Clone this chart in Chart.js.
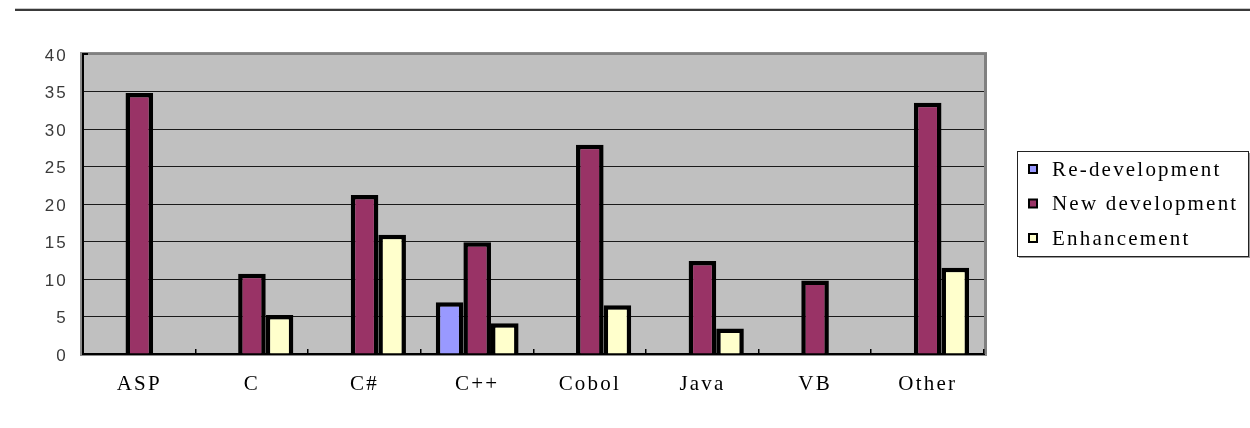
<!DOCTYPE html>
<html>
<head>
<meta charset="utf-8">
<script src="https://cdn.jsdelivr.net/npm/chart.js@4/dist/chart.umd.min.js"></script>
<style>
body{margin:0;background:#fff;}
#myChart{position:absolute;left:0;top:0;}
#raya{position:absolute;left:15px;top:8px;width:1235px;height:2px;background:#3a3a3a;border-top:1px solid #c8c8c8;z-index:2;}
</style>
</head>
<body>
<canvas id="myChart" width="1250" height="428"></canvas>
<div id="raya"></div>
<script>
// datos
var categorias=['ASP','C','C#','C++','Cobol','Java','VB','Other'];
var reDesarrollo=[null,null,null,6.9,null,null,null,null];
var nuevoDesarrollo=[34.8,10.7,21.2,14.9,27.9,12.4,9.8,33.5];
var mejora=[null,5.2,15.9,4.1,6.5,3.4,null,11.5];
var ticksY=[0,5,10,15,20,25,30,35,40];

var myChart=document.getElementById('myChart');
Chart.defaults.font.family='"Liberation Serif", serif';

// fondo gris, marco y leyenda
var marco={
	id:'marco',
	beforeDraw:function(chart){
		var ctx=chart.ctx, a=chart.chartArea;
		ctx.letterSpacing='2.2px';
		ctx.save();
		ctx.fillStyle='#8c8c8c';
		ctx.fillRect(a.left-3,a.top-2,a.right-a.left+6,a.bottom-a.top+4);
		ctx.fillStyle='#c0c0c0';
		ctx.fillRect(a.left,a.top,a.right-a.left,a.bottom-a.top);
		ctx.restore();
	},
	afterDraw:function(chart){
		var ctx=chart.ctx, a=chart.chartArea, x=chart.scales.x;
		ctx.save();
		// borde de arriba y derecha
		ctx.fillStyle='#808080';
		ctx.fillRect(a.left,a.top-1,a.right-a.left,2);
		ctx.fillRect(a.right,a.top-1,3,a.bottom-a.top+1);
		ctx.fillStyle='#000';
		ctx.fillRect(a.left,a.top-1,5,2);
		// marcas entre categorias
		var medio=(x.getPixelForValue(1)-x.getPixelForValue(0))/2;
		for(var i=0;i<categorias.length;i++){
			var px=Math.round(x.getPixelForValue(i)+medio);
			ctx.fillRect(px-1,a.bottom-5,1.5,5);
		}
		// leyenda
		var lx=1017, ly=151, lw=231, lh=105;
		ctx.fillStyle='#9a9a9a';
		ctx.fillRect(lx+2,ly+2,lw,lh);
		ctx.fillStyle='#fff';
		ctx.fillRect(lx,ly,lw,lh);
		ctx.strokeStyle='#222';
		ctx.lineWidth=1;
		ctx.strokeRect(lx+0.5,ly+0.5,lw,lh);
		ctx.font='21px "Liberation Serif"';
		ctx.textBaseline='middle';
		ctx.textAlign='left';
		chart.data.datasets.forEach(function(ds,k){
			var cy=ly+18+k*34.5;
			ctx.fillStyle=ds.backgroundColor;
			ctx.fillRect(1029,cy-4,8,8);
			ctx.strokeStyle='#000';
			ctx.lineWidth=2;
			ctx.strokeRect(1029,cy-4,8,8);
			ctx.fillStyle='#000';
			ctx.fillText(ds.label,1052,cy+1);
		});
		ctx.restore();
	}
};

//Construccion de la grafica
var grafica=new Chart(myChart,{
	type:'bar',
	data:{
		labels:categorias,
		datasets:[
		//SERIE 1
		{
			label:'Re-development',
			backgroundColor:'#9999ff',
			borderColor:'#000',
			borderWidth:4.5,
			data:reDesarrollo
		},
		//SERIE 2
		{
			label:'New development',
			backgroundColor:'#993366',
			borderColor:'#000',
			borderWidth:4.5,
			data:nuevoDesarrollo
		},
		//SERIE 3
		{
			label:'Enhancement',
			backgroundColor:'#ffffcc',
			borderColor:'#000',
			borderWidth:4.5,
			data:mejora
		}
		]
	},
	options:{
		responsive:false,
		animation:false,
		categoryPercentage:0.735,
		barPercentage:1,
		layout:{padding:{left:0,right:266,top:54,bottom:0}},
		plugins:{legend:{display:false},tooltip:{enabled:false}},
		scales:{
			x:{
				grid:{display:false,drawTicks:false},
				border:{display:true,color:'#000',width:2},
				ticks:{color:'#000',padding:18,font:{size:21}},
				afterFit:function(s){s.height=74;}
			},
			y:{
				min:0,max:40,
				afterBuildTicks:function(s){s.ticks=ticksY.map(function(v){return {value:v};});},
				grid:{color:'#1a1a1a',lineWidth:1,drawTicks:false},
				border:{display:true,color:'#000',width:2},
				ticks:{color:'#3a3a3a',padding:15,labelOffset:2,font:{family:'"Liberation Sans", sans-serif',size:17}},
				afterFit:function(s){s.width=83;}
			}
		}
	},
	plugins:[marco]
});
//fin de la construccion
</script>
</body>
</html>
